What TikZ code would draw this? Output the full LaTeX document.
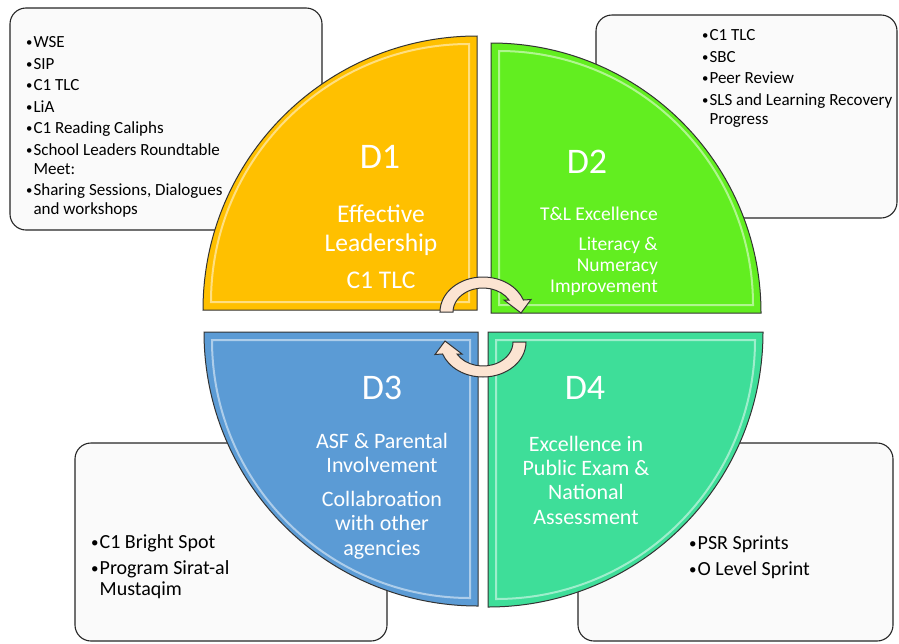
\documentclass[tikz,border=0pt]{standalone}
\usepackage{fontspec}
\setmainfont{Carlito}
\usetikzlibrary{positioning}

\definecolor{leadgold}{HTML}{FFC000}
\definecolor{tlgreen}{HTML}{62EE20}
\definecolor{asfblue}{HTML}{5B9BD5}
\definecolor{examgreen}{HTML}{3EDE99}
\definecolor{peach}{HTML}{FCE4D2}

\tikzset{
    infobox/.style={draw=black!85, fill=black!2, line width=1.1pt, rounded corners=16pt},
    quad/.style={draw=black!80, line width=1pt},
    bevel/.style={draw=white, draw opacity=0.5, line width=2pt},
    cyclearrow/.style={draw=black!80, fill=peach, line width=1pt},
    bullets/.style={anchor=north west, align=left, inner sep=0pt},
    qtitle/.style={text=white, inner sep=0pt, font=\fontsize{36}{40}\selectfont},
    qtext/.style={text=white, inner sep=0pt, align=center}
}
\newcommand{\bul}{\raisebox{1pt}{\scalebox{0.75}{\textbullet}}\hspace{1pt}}
\newcommand{\hang}{\phantom{\bul}}

\begin{document}
\begin{tikzpicture}[x=1pt, y=-1pt]
    \useasboundingbox (0,0) rectangle (899,643);

    % info boxes behind the circle
    \draw[infobox] (10,8) rectangle (322,230);
    \draw[infobox] (596,15) rectangle (897,218);
    \draw[infobox] (75,443) rectangle (387,641);
    \draw[infobox] (578,443) rectangle (893,641);

    \node[bullets, font=\fontsize{17}{19}\selectfont] (d1list) at (26,36.5)
        {\bul WSE\\[2.5pt] \bul SIP\\[2.5pt] \bul C1 TLC\\[2.5pt] \bul LiA\\[2.5pt]
         \bul C1 Reading Caliphs\\[2.5pt] \bul School Leaders Roundtable\\ \hang Meet:\\[2.5pt]
         \bul Sharing Sessions, Dialogues\\ \hang and workshops};
    \node[bullets, font=\fontsize{17}{19}\selectfont] (d2list) at (702,29.5)
        {\bul C1 TLC\\[2.5pt] \bul SBC\\[2.5pt] \bul Peer Review\\[2.5pt]
         \bul SLS and Learning Recovery\\ \hang Progress};
    \node[bullets, font=\fontsize{20}{20.5}\selectfont] (d3list) at (91,534.5)
        {\bul C1 Bright Spot\\[5.5pt] \bul Program Sirat-al\\ \hang Mustaqim};
    \node[bullets, font=\fontsize{20}{20.5}\selectfont] (d4list) at (689,535.5)
        {\bul PSR Sprints\\[5.5pt] \bul O Level Sprint};

    % the four quarters
    \draw[quad, fill=leadgold] (477,310) -- (203,310) arc[start angle=180, end angle=270, radius=274] -- cycle;
    \draw[bevel] (469,302) -- (211,302) arc[start angle=180, end angle=270, radius=258] -- cycle;
    \draw[quad, fill=tlgreen] (491,313) -- (491,43) arc[start angle=270, end angle=360, radius=270] -- cycle;
    \draw[bevel] (499,305) -- (499,51) arc[start angle=270, end angle=360, radius=254] -- cycle;
    \draw[quad, fill=asfblue] (478,332) -- (204,332) arc[start angle=180, end angle=90, radius=274] -- cycle;
    \draw[bevel] (470,340) -- (212,340) arc[start angle=180, end angle=90, radius=258] -- cycle;
    \draw[quad, fill=examgreen] (488,332) -- (763,332) arc[start angle=0, end angle=90, radius=275] -- cycle;
    \draw[bevel] (496,340) -- (755,340) arc[start angle=0, end angle=90, radius=259] -- cycle;

    % quarter texts
    \node[qtitle] (d1) at (380,157) {D1};
    \node[qtext, font=\fontsize{25.5}{29}\selectfont] (d1text) at (381,247)
        {Effective\\Leadership\\[8pt]C1 TLC};
    \node[qtitle] (d2) at (587,162) {D2};
    \node[qtext, align=right, anchor=east, font=\fontsize{19.5}{21}\selectfont] (d2text) at (658,251)
        {T\&L Excellence\\[9pt]Literacy \&\\Numeracy\\Improvement};
    \node[qtitle] (d3) at (382,388) {D3};
    \node[qtext, font=\fontsize{22}{24.5}\selectfont] (d3text) at (382,496)
        {ASF \& Parental\\Involvement\\[9pt]Collabroation\\with other\\agencies};
    \node[qtitle] (d4) at (585,388) {D4};
    \node[qtext, font=\fontsize{22}{24.3}\selectfont] (d4text) at (586,480)
        {Excellence in\\Public Exam \&\\National\\Assessment};

    % cycle arrows
    \begin{scope}[shift={(483,312)}, yscale=-1]
        \draw[cyclearrow] (-43,0) arc[start angle=180, end angle=20, x radius=43, y radius=35]
            -- (48,12.5) -- (38,-1) -- (21,12) -- (26,12)
            arc[start angle=30, end angle=180, x radius=30, y radius=24] -- cycle;
    \end{scope}
    \begin{scope}[shift={(483,342)}, yscale=-1, rotate=180]
        \draw[cyclearrow] (-43,0) arc[start angle=180, end angle=20, x radius=43, y radius=35]
            -- (48,12.5) -- (38,-1) -- (21,12) -- (26,12)
            arc[start angle=30, end angle=180, x radius=30, y radius=24] -- cycle;
    \end{scope}
\end{tikzpicture}
\end{document}
